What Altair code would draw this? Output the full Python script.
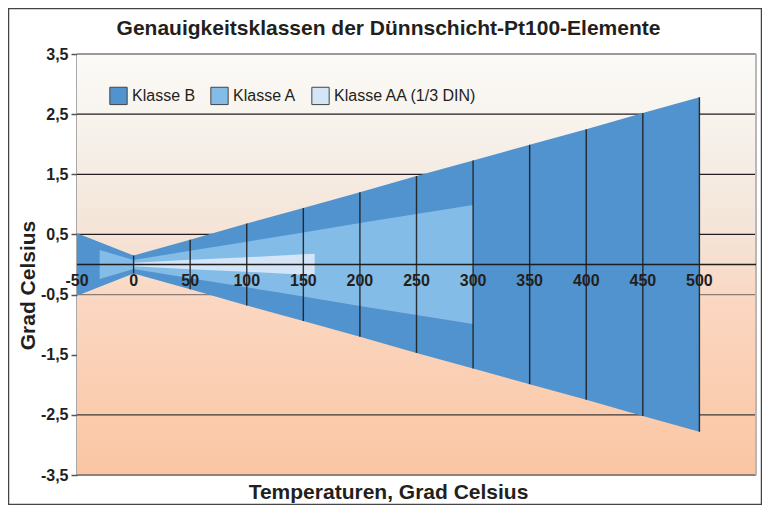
import altair as alt
import pandas as pd

# ---- data ----
classes = ["Klasse B", "Klasse A", "Klasse AA (1/3 DIN)"]
class_colors = ["#5193CE", "#84BCE8", "#D3E5F7"]

temps_b = [-50, 0, 50, 100, 150, 200, 250, 300, 350, 400, 450, 500]
tol_b = [0.52, 0.15, 0.41, 0.68, 0.94, 1.20, 1.47, 1.73, 1.99, 2.25, 2.52, 2.78]

temps_a = [-30, 0, 50, 100, 150, 200, 250, 300]
tol_a = [0.24, 0.075, 0.23, 0.38, 0.53, 0.69, 0.84, 0.99]

temps_aa = [0, 50, 100, 150, 160]
tol_aa = [0.03, 0.08, 0.12, 0.17, 0.18]

x_ticks = [-50, 0, 50, 100, 150, 200, 250, 300, 350, 400, 450, 500]
x_labels = ["-50", "0", "50", "100", "150", "200", "250", "300", "350", "400", "450", "500"]
y_ticks = [3.5, 2.5, 1.5, 0.5, -0.5, -1.5, -2.5, -3.5]
grid_vals = [3.5, 2.5, 1.5, 0.5, -0.5, -2.5, -3.5]
grid_cols = ["#7a7a7a", "#231f20", "#231f20", "#231f20", "#8a7d76", "#3a3a3a", "#6a6a6a"]

x_dom = [-50, 550]
y_dom = [-3.5, 3.5]

FONT = "Liberation Sans"
TXT = "#231f20"
W, H = 679, 421

xs = alt.Scale(domain=x_dom, nice=False, zero=False)
ys = alt.Scale(domain=y_dom, nice=False, zero=False)

x_axis = alt.Axis(labels=False, ticks=False, domain=False, grid=False,
                  title="Temperaturen, Grad Celsius", titleFontSize=21,
                  titleFontWeight="bold", titleColor=TXT, titleFont=FONT,
                  titleX=311, titleY=17, titleBaseline="middle", titleAlign="center")
y_axis = alt.Axis(values=y_ticks, grid=False,
                  labelExpr="replace(replace(format(datum.value, '.1f'), '.', ','), '\u2212', '-')",
                  labelFontSize=16, labelFontWeight="bold", labelColor=TXT, labelFont=FONT,
                  labelPadding=3, tickSize=6, tickColor="#555555", tickWidth=1.5,
                  domainColor="#555555", domainWidth=2,
                  title="Grad Celsius", titleFontSize=21, titleFontWeight="bold",
                  titleColor=TXT, titleFont=FONT, titleX=-49, titleY=231,
                  titleBaseline="middle", titleAlign="center", titleAngle=270)


def X(field):
    return alt.X(field, type="quantitative", scale=xs, axis=x_axis)


def Y(field):
    return alt.Y(field, type="quantitative", scale=ys, axis=y_axis)


cscale = alt.Scale(domain=classes, range=class_colors)
legend = alt.Legend(title=None, orient="none", legendX=32, legendY=32,
                    direction="horizontal", symbolType="square", symbolSize=300,
                    symbolStrokeColor="#444444", symbolStrokeWidth=1,
                    symbolOpacity=1,
                    labelFontSize=16, labelFont=FONT, labelColor=TXT,
                    labelOffset=4, columnPadding=12, padding=0)

# background gradient
gradient = alt.Gradient(
    gradient="linear", x1=0, x2=0, y1=0, y2=1,
    stops=[alt.GradientStop(color="#FCFBF8", offset=0),
           alt.GradientStop(color="#F5EEE6", offset=0.25),
           alt.GradientStop(color="#F5E2D4", offset=0.45),
           alt.GradientStop(color="#FBD6C0", offset=0.6),
           alt.GradientStop(color="#FAC6A3", offset=1)])

bg = alt.Chart(pd.DataFrame({"x0": [x_dom[0]], "x1": [x_dom[1]],
                             "y0": [y_dom[1]], "y1": [y_dom[0]]})).mark_rect(
    fill=gradient).encode(x=X("x0"), x2="x1", y=Y("y0"), y2="y1")

grid = alt.Chart(pd.DataFrame({"g": grid_vals, "c": grid_cols})).mark_rule(
    strokeWidth=1.3).encode(y=Y("g"), stroke=alt.Stroke("c:N", scale=None))

right_edge = alt.Chart(pd.DataFrame({"r": [x_dom[1]]})).mark_rule(
    color="#b8b8b8", strokeWidth=2).encode(x=X("r"))


def band(temps, tol, name):
    df = pd.DataFrame({"t": temps, "hi": tol, "lo": [-v for v in tol],
                       "cls": [name] * len(temps)})
    return alt.Chart(df).mark_area(interpolate="linear", opacity=1).encode(
        x=X("t"), y=Y("hi"), y2="lo",
        color=alt.Color("cls:N", scale=cscale, legend=legend))


area_b = band(temps_b, tol_b, classes[0])
area_a = band(temps_a, tol_a, classes[1])
area_aa = band(temps_aa, tol_aa, classes[2])

drop = pd.DataFrame({"t": temps_b[1:], "hi": tol_b[1:], "lo": [-v for v in tol_b[1:]]})
drops = alt.Chart(drop).mark_rule(color="#1e1e1e", strokeWidth=1.4, opacity=0.9).encode(
    x=X("t"), y=Y("hi"), y2="lo")

zero = alt.Chart(pd.DataFrame({"z": [0]})).mark_rule(
    color="#1e1e1e", strokeWidth=1.5).encode(y=Y("z"))

xlab = alt.Chart(pd.DataFrame({"t": x_ticks, "lab": x_labels, "z": [0] * len(x_ticks)})).mark_text(
    dy=16, fontSize=16, fontWeight="bold", font=FONT, color=TXT).encode(
    x=X("t"), y=Y("z"), text="lab:N")

frame = alt.Chart(pd.DataFrame({"a": [0]})).mark_rect(
    filled=False, stroke="#444444", strokeWidth=1.5).encode(
    x=alt.value(-68.5), x2=alt.value(W + 5.5), y=alt.value(-45.5), y2=alt.value(H + 29.5))

chart = alt.layer(bg, grid, right_edge, area_b, area_a, area_aa, drops, zero, xlab, frame).properties(
    width=W, height=H,
    title=alt.TitleParams(text="Genauigkeitsklassen der Dünnschicht-Pt100-Elemente",
                          fontSize=21, fontWeight="bold", color=TXT, font=FONT,
                          anchor="middle", frame="group", dx=-28, dy=48, offset=0,
                          baseline="alphabetic"),
    autosize=alt.AutoSizeParams(type="none"),
    padding={"left": 69, "top": 46, "right": 6, "bottom": 30},
).configure_view(strokeWidth=0).configure(font=FONT, background="white")

chart.save("out.html", embed_options={"renderer": "svg", "actions": False})
